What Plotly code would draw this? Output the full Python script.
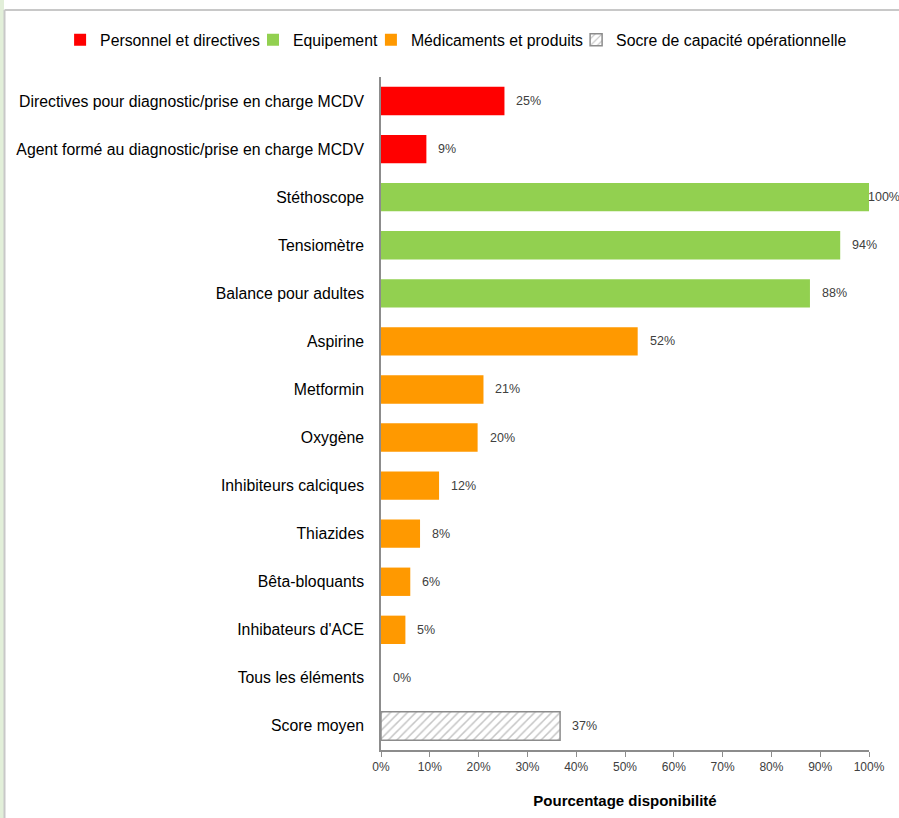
import plotly.graph_objects as go

categories = [
    "Directives pour diagnostic/prise en charge MCDV",
    "Agent formé au diagnostic/prise en charge MCDV",
    "Stéthoscope",
    "Tensiomètre",
    "Balance pour adultes",
    "Aspirine",
    "Metformin",
    "Oxygène",
    "Inhibiteurs calciques",
    "Thiazides",
    "Bêta-bloquants",
    "Inhibateurs d'ACE",
    "Tous les éléments",
    "Score moyen",
]
values = [25.3, 9.3, 100, 94.1, 87.9, 52.6, 21.0, 19.8, 11.9, 8.0, 6.0, 5.0, 0, 36.7]
value_labels = ["25%", "9%", "100%", "94%", "88%", "52%", "21%", "20%", "12%", "8%", "6%", "5%", "0%", "37%"]
groups = ["Personnel et directives"] * 2 + ["Equipement"] * 3 + ["Médicaments et produits"] * 8 + ["Socre de capacité opérationnelle"]
group_names = ["Personnel et directives", "Equipement", "Médicaments et produits", "Socre de capacité opérationnelle"]
group_colors = {"Personnel et directives": "#ff0000", "Equipement": "#92d050",
                "Médicaments et produits": "#ff9900", "Socre de capacité opérationnelle": "#ffffff"}
x_ticks = [0, 10, 20, 30, 40, 50, 60, 70, 80, 90, 100]
x_ticktext = [f"{t}%" for t in x_ticks]

fig = go.Figure()
for g in group_names:
    ys = [c for c, gg in zip(categories, groups) if gg == g]
    xs = [v for v, gg in zip(values, groups) if gg == g]
    if g == "Socre de capacité opérationnelle":
        marker = dict(color="#ffffff", line=dict(color="#8c8c8c", width=1.5),
                      pattern=dict(shape="/", fgcolor="#8c8c8c", bgcolor="#ffffff", size=6, solidity=0.25))
    else:
        marker = dict(color=group_colors[g], line=dict(width=0))
    fig.add_trace(go.Bar(x=xs, y=ys, orientation="h", name=g, marker=marker))

for c, v, t in zip(categories, values, value_labels):
    fig.add_annotation(x=v, y=c, text=t, showarrow=False, xanchor="left",
                       xshift=10 if v < 100 else -3, font=dict(size=12.5, color="#404040"))

# frame
fig.add_shape(type="rect", xref="paper", yref="paper", x0=-0.8, x1=-0.7725, y0=-0.3, y1=1.2,
              line=dict(width=0), fillcolor="#e2efd9", layer="above")
fig.add_shape(type="line", xref="paper", yref="paper", x0=-0.7715, x1=1.2, y0=1.0996, y1=1.0996,
              line=dict(color="#c8c8c8", width=2), layer="above")
fig.add_shape(type="line", xref="paper", yref="paper", x0=-0.7715, x1=-0.7715, y0=-0.3, y1=1.0996,
              line=dict(color="#c8c8c8", width=2), layer="above")

fig.update_layout(
    width=899, height=818,
    margin=dict(l=381, r=30, t=77, b=68, autoexpand=False),
    paper_bgcolor="white", plot_bgcolor="white",
    barmode="overlay", bargap=0.41,
    font=dict(family="Liberation Sans, Arial, sans-serif", size=15.8, color="#000000"),
    legend=dict(orientation="h", x=-0.633, xanchor="left", y=1.055, yanchor="middle",
                font=dict(size=15.8, color="#000000"), itemwidth=30, indentation=-12,
                traceorder="normal", tracegroupgap=0),
    xaxis=dict(range=[0, 100], tickvals=x_ticks, ticktext=x_ticktext, showgrid=False, zeroline=False,
               showline=True, linecolor="#8c8c8c", linewidth=1.5, ticks="outside", ticklen=5,
               tickcolor="#8c8c8c", tickfont=dict(size=12, color="#404040"), automargin=False,
               title=dict(text="<b>Pourcentage disponibilité</b>", font=dict(size=15, color="#000000"), standoff=22)),
    yaxis=dict(categoryorder="array", categoryarray=categories, autorange="reversed", showgrid=False,
               zeroline=False, showline=True, linecolor="#8c8c8c", linewidth=1.5, ticks="",
               ticklabelstandoff=12, tickfont=dict(size=15.8, color="#000000"), automargin=False),
    showlegend=True,
)
fig.write_html("out.html", config={"displayModeBar": False},
               post_script="document.body.style.margin='0px';document.body.style.overflow='hidden';")
